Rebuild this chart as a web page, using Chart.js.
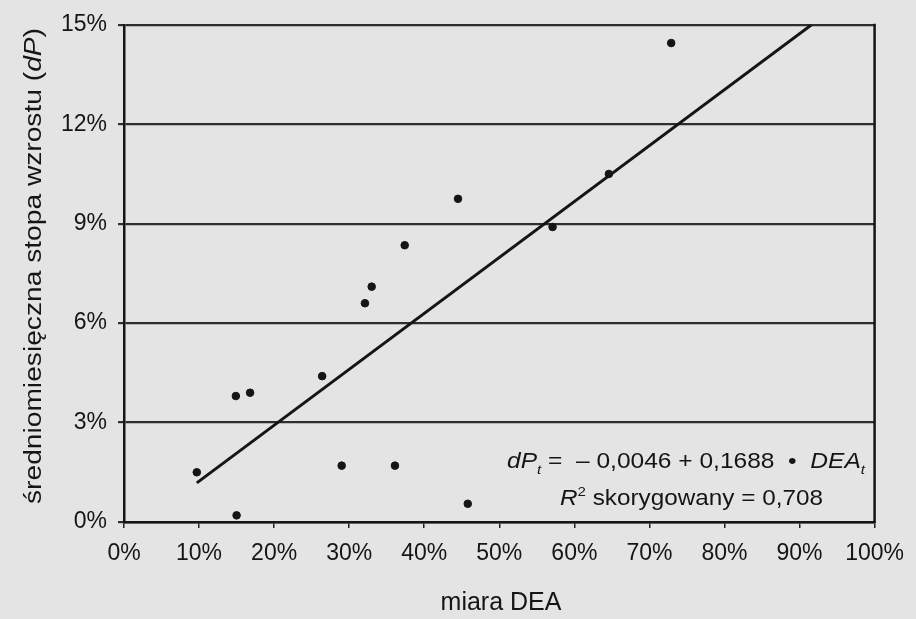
<!DOCTYPE html>
<html>
<head>
<meta charset="utf-8">
<script src="https://cdn.jsdelivr.net/npm/chart.js@4"></script>
<style>
  body { margin: 0; background: #e4e4e4; }
  #wrap { width: 916px; height: 619px; }
</style>
</head>
<body>
<div id="wrap"><canvas id="chart" width="916" height="619"></canvas></div>
<script>
// data (percent)
const deaValues = [9.7, 15.0, 14.9, 16.8, 26.4, 29.0, 32.1, 33.0, 36.1, 37.4, 44.5, 45.8, 57.1, 64.6, 72.9];
const growthValues = [1.5, 0.2, 3.8, 3.9, 4.4, 1.7, 6.6, 7.1, 1.7, 8.35, 9.75, 0.55, 8.9, 10.5, 14.45];
// trend line ends
const trendX = [9.7, 91.6];
const trendY = [1.18, 15.0];
const yTicks = [0, 3, 6, 9, 12, 15];
const xTicks = [0, 10, 20, 30, 40, 50, 60, 70, 80, 90, 100];

const FONT = "'Liberation Sans', Arial, sans-serif";
const INK = "#151515";

function drawRuns(ctx, runs, x, y, size) {
  // runs: {t, it, sub, sup}
  let cx = x;
  runs.forEach(r => {
    const s = (r.sub || r.sup) ? size * 0.62 : size;
    ctx.font = (r.it ? "italic " : "") + s + "px " + FONT;
    const dy = r.sub ? size * 0.25 : (r.sup ? -size * 0.4 : 0);
    ctx.fillText(r.t, cx, y + dy);
    cx += ctx.measureText(r.t).width;
  });
  return cx - x;
}
function runsWidth(ctx, runs, size) {
  let w = 0;
  runs.forEach(r => {
    const s = (r.sub || r.sup) ? size * 0.62 : size;
    ctx.font = (r.it ? "italic " : "") + s + "px " + FONT;
    w += ctx.measureText(r.t).width;
  });
  return w;
}
// draw runs so they span from x0 to x1 on baseline y
function fitRuns(ctx, runs, x0, x1, y, size) {
  const w = runsWidth(ctx, runs, size);
  ctx.save();
  ctx.translate(x0, y);
  ctx.scale((x1 - x0) / w, 1);
  drawRuns(ctx, runs, 0, 0, size);
  ctx.restore();
}

const extras = {
  id: "extras",
  afterDraw(chart) {
    const ctx = chart.ctx;
    const a = chart.chartArea;
    ctx.save();
    // right border of plot
    ctx.strokeStyle = INK;
    ctx.lineWidth = 2.5;
    ctx.beginPath();
    ctx.moveTo(a.right, a.top - 1);
    ctx.lineTo(a.right, a.bottom + 1);
    ctx.stroke();

    ctx.fillStyle = INK;
    ctx.textBaseline = "alphabetic";

    // equation
    const line1 = [
      { t: "dP", it: true }, { t: "t", it: true, sub: true },
      { t: " =  \u2013 0,0046 + 0,1688  \u2022  " },
      { t: "DEA", it: true }, { t: "t", it: true, sub: true }
    ];
    const line2 = [
      { t: "R", it: true }, { t: "2", sup: true }, { t: " skorygowany = 0,708" }
    ];
    fitRuns(ctx, line1, 507, 865, 468, 22);
    fitRuns(ctx, line2, 560, 823, 505, 22);

    // y title, rotated
    const title = [{ t: "\u015bredniomiesi\u0119czna stopa wzrostu (" }, { t: "dP", it: true }, { t: ")" }];
    ctx.save();
    ctx.translate(41, 504);
    ctx.rotate(-Math.PI / 2);
    fitRuns(ctx, title, 0, 476, 0, 23);
    ctx.restore();

    // x title
    ctx.font = "25px " + FONT;
    ctx.textAlign = "center";
    ctx.textBaseline = "alphabetic";
    ctx.fillText("miara DEA", 501, 610);
    ctx.restore();
  }
};

const points = deaValues.map((v, i) => ({ x: v, y: growthValues[i] }));
const trend = trendX.map((v, i) => ({ x: v, y: trendY[i] }));

new Chart(document.getElementById("chart"), {
  type: "scatter",
  data: {
    datasets: [
      {
        data: points,
        backgroundColor: INK,
        borderColor: INK,
        pointRadius: 3.8,
        pointHoverRadius: 3.8
      },
      {
        type: "line",
        data: trend,
        borderColor: INK,
        borderWidth: 3,
        pointRadius: 0,
        fill: false
      }
    ]
  },
  options: {
    responsive: false,
    animation: false,
    layout: { padding: { top: 24, right: 41, left: 0, bottom: 0 } },
    plugins: { legend: { display: false }, tooltip: { enabled: false } },
    scales: {
      x: {
        type: "linear",
        min: 0, max: 100,
        afterBuildTicks: s => { s.ticks = xTicks.map(v => ({ value: v })); },
        afterFit: s => { s.height = 97; },
        grid: { drawOnChartArea: false, drawTicks: true, tickLength: 6, color: "#222", lineWidth: 1.5 },
        border: { display: true, color: INK, width: 2.5 },
        ticks: {
          padding: 12,
          color: INK,
          font: { size: 23, family: FONT },
          maxRotation: 0,
          callback: v => v + "%"
        }
      },
      y: {
        type: "linear",
        min: 0, max: 15,
        afterBuildTicks: s => { s.ticks = yTicks.map(v => ({ value: v })); },
        afterFit: s => { s.width = 124; },
        grid: { color: "#2e2e2e", lineWidth: 2.2, drawTicks: true, tickLength: 6 },
        border: { display: true, color: INK, width: 2.5 },
        ticks: {
          padding: 11,
          color: INK,
          font: { size: 23, family: FONT },
          callback: v => v + "%"
        }
      }
    }
  },
  plugins: [extras]
});
</script>
</body>
</html>
